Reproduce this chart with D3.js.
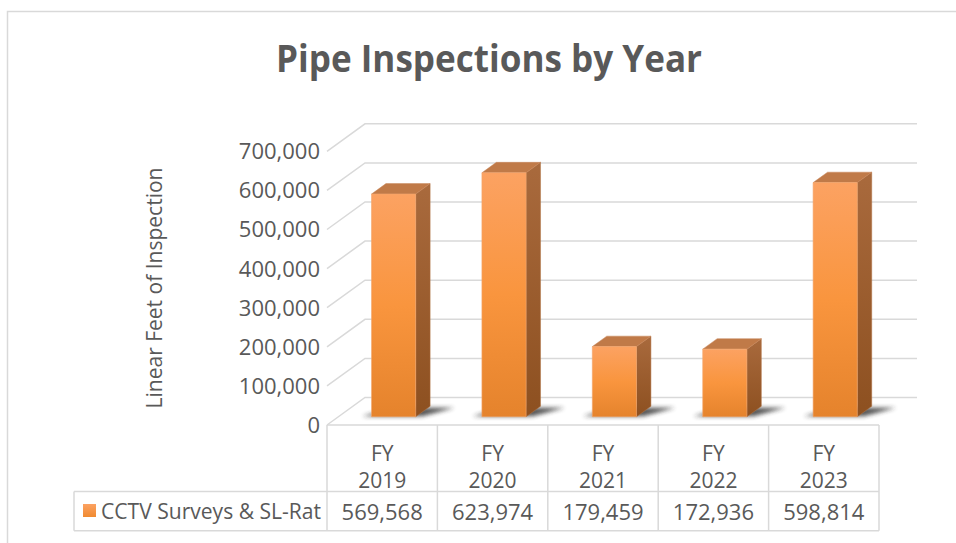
<!DOCTYPE html>
<html>
<head>
<meta charset="utf-8">
<script src="https://cdn.jsdelivr.net/npm/d3@7"></script>
<style>
  html, body { margin: 0; padding: 0; background: #fff; }
  svg { display: block; }
  text { font-family: "Open Sans", "Noto Sans", sans-serif; fill: #595959; }
</style>
</head>
<body>
<svg id="chart" width="956" height="543"></svg>
<script>
// ---- data ----
const title = "Pipe Inspections by Year";
const yAxisTitle = "Linear Feet of Inspection";
const seriesName = "CCTV Surveys & SL-Rat";
const categories = ["FY 2019", "FY 2020", "FY 2021", "FY 2022", "FY 2023"];
const values = [569568, 623974, 179459, 172936, 598814];
const yTicks = [0, 100000, 200000, 300000, 400000, 500000, 600000, 700000];

// ---- layout ----
const W = 956, H = 543;
const svg = d3.select("#chart");
const frontLeft = 327, frontRight = 879, floorY = 425, topY = 151.3;
const depthDX = 38, depthDY = 27.5;
const z0 = 0.30, z1 = 0.68;          // bar depth range (0 = front, 1 = back)
const barFrac = 0.40;                // bar width as fraction of band
const tableHeaderBottom = 491.5, tableBottom = 530.7, legendLeft = 74;

const x = d3.scaleBand().domain(categories).range([frontLeft, frontRight]).paddingInner(0).paddingOuter(0);
const y = d3.scaleLinear().domain([0, 700000]).range([floorY, topY]);
const fmt = d3.format(",");
const proj = (xf, v, z) => [xf + z * depthDX, y(v) - z * depthDY];

const defs = svg.append("defs");
const gFront = defs.append("linearGradient").attr("id", "gFront").attr("x1", 0).attr("y1", 0).attr("x2", 0).attr("y2", 1);
gFront.append("stop").attr("offset", "0%").attr("stop-color", "#FCA262");
gFront.append("stop").attr("offset", "50%").attr("stop-color", "#F9953E");
gFront.append("stop").attr("offset", "100%").attr("stop-color", "#E5832C");
const gSide = defs.append("linearGradient").attr("id", "gSide").attr("x1", 0).attr("y1", 0).attr("x2", 0).attr("y2", 1);
gSide.append("stop").attr("offset", "0%").attr("stop-color", "#A96A3D");
gSide.append("stop").attr("offset", "100%").attr("stop-color", "#8D5020");
const gLeg = defs.append("linearGradient").attr("id", "gLeg").attr("x1", 0).attr("y1", 0).attr("x2", 0).attr("y2", 1);
gLeg.append("stop").attr("offset", "0%").attr("stop-color", "#FCA262");
gLeg.append("stop").attr("offset", "100%").attr("stop-color", "#F08A30");
const blur = defs.append("filter").attr("id", "blur").attr("x", "-50%").attr("y", "-50%").attr("width", "200%").attr("height", "200%");
blur.append("feGaussianBlur").attr("stdDeviation", 2.2);

// outer chart border
svg.append("rect").attr("x", 7.5).attr("y", 11.5).attr("width", W + 10).attr("height", H + 10)
  .attr("fill", "#fff").attr("stroke", "#d9d9d9").attr("stroke-width", 1.5);

// title
svg.append("text").attr("x", 489).attr("y", 72).attr("text-anchor", "middle")
  .attr("font-size", 38).attr("font-weight", "bold")
  .attr("textLength", 426).attr("lengthAdjust", "spacingAndGlyphs")
  .text(title);

// ---- gridlines (back wall + side wall) ----
const grid = svg.append("g").attr("stroke", "#d9d9d9").attr("stroke-width", 1.5).attr("fill", "none");
yTicks.forEach(t => {
  const pf = proj(frontLeft, t, 0), pb = proj(frontLeft, t, 1), pr = proj(frontRight, t, 1);
  grid.append("path").attr("d", `M${pf[0]},${pf[1]}L${pb[0]},${pb[1]}L${pr[0]},${pr[1]}`);
});

// y tick labels
svg.append("g").selectAll("text").data(yTicks).join("text")
  .attr("x", 320).attr("y", d => y(d)).attr("dy", "0.36em")
  .attr("text-anchor", "end").attr("font-size", 22)
  .text(d => fmt(d));

// y axis title
svg.append("text").attr("transform", "translate(162,288) rotate(-90)")
  .attr("text-anchor", "middle").attr("font-size", 21)
  .text(yAxisTitle);

// ---- bars ----
const bars = svg.append("g");
categories.forEach((c, i) => {
  const v = values[i];
  const bw = x.bandwidth() * barFrac;
  const xl = x(c) + (x.bandwidth() - bw) / 2, xr = xl + bw;
  // shadow on floor
  const s = [proj(xl - 10, 0, z0 + 0.02), proj(xr + 6, 0, z0 + 0.02), proj(xr + 26, 0, z1 - 0.05), proj(xl + 10, 0, z1 - 0.05)];
  bars.append("polygon").attr("points", s.map(p => p.join(",")).join(" "))
    .attr("fill", "#2a2a2a").attr("opacity", 0.8).attr("filter", "url(#blur)");
  const fbl = proj(xl, 0, z0), fbr = proj(xr, 0, z0), ftl = proj(xl, v, z0), ftr = proj(xr, v, z0);
  const btl = proj(xl, v, z1), btr = proj(xr, v, z1), bbr = proj(xr, 0, z1);
  // side face
  bars.append("polygon").attr("points", [fbr, ftr, btr, bbr].map(p => p.join(",")).join(" "))
    .attr("fill", "url(#gSide)").attr("stroke", "#b07040").attr("stroke-width", 0.5);
  // top face
  bars.append("polygon").attr("points", [ftl, ftr, btr, btl].map(p => p.join(",")).join(" "))
    .attr("fill", "#C07A48").attr("stroke", "#c8875a").attr("stroke-width", 0.5);
  // front face
  bars.append("polygon").attr("points", [fbl, ftl, ftr, fbr].map(p => p.join(",")).join(" "))
    .attr("fill", "url(#gFront)").attr("stroke", "#f3a66c").attr("stroke-width", 0.6);
});

// ---- data table ----
const tbl = svg.append("g").attr("stroke", "#d9d9d9").attr("stroke-width", 1.5).attr("fill", "none");
tbl.append("line").attr("x1", frontLeft).attr("x2", frontRight).attr("y1", floorY).attr("y2", floorY);
tbl.append("line").attr("x1", legendLeft).attr("x2", frontRight).attr("y1", tableHeaderBottom).attr("y2", tableHeaderBottom);
tbl.append("line").attr("x1", legendLeft).attr("x2", frontRight).attr("y1", tableBottom).attr("y2", tableBottom);
tbl.append("line").attr("x1", legendLeft).attr("x2", legendLeft).attr("y1", tableHeaderBottom).attr("y2", tableBottom);
categories.concat([null]).forEach((c, i) => {
  const xx = c ? x(c) : frontRight;
  tbl.append("line").attr("x1", xx).attr("x2", xx).attr("y1", floorY).attr("y2", tableBottom);
});

const hdr = svg.append("g").attr("text-anchor", "middle").attr("font-size", 21);
categories.forEach(c => {
  const cx = x(c) + x.bandwidth() / 2;
  const parts = c.split(" ");
  hdr.append("text").attr("x", cx).attr("y", 461).text(parts[0]);
  hdr.append("text").attr("x", cx).attr("y", 488).text(parts[1]);
});
const vals = svg.append("g").attr("text-anchor", "middle").attr("font-size", 22);
categories.forEach((c, i) => {
  vals.append("text").attr("x", x(c) + x.bandwidth() / 2).attr("y", 520).text(fmt(values[i]));
});

// legend key in table
svg.append("rect").attr("x", 83).attr("y", 504).attr("width", 13).attr("height", 13).attr("fill", "url(#gLeg)");
svg.append("text").attr("x", 101).attr("y", 519).attr("font-size", 21)
  .attr("textLength", 220).attr("lengthAdjust", "spacingAndGlyphs").text(seriesName);
</script>
</body>
</html>
